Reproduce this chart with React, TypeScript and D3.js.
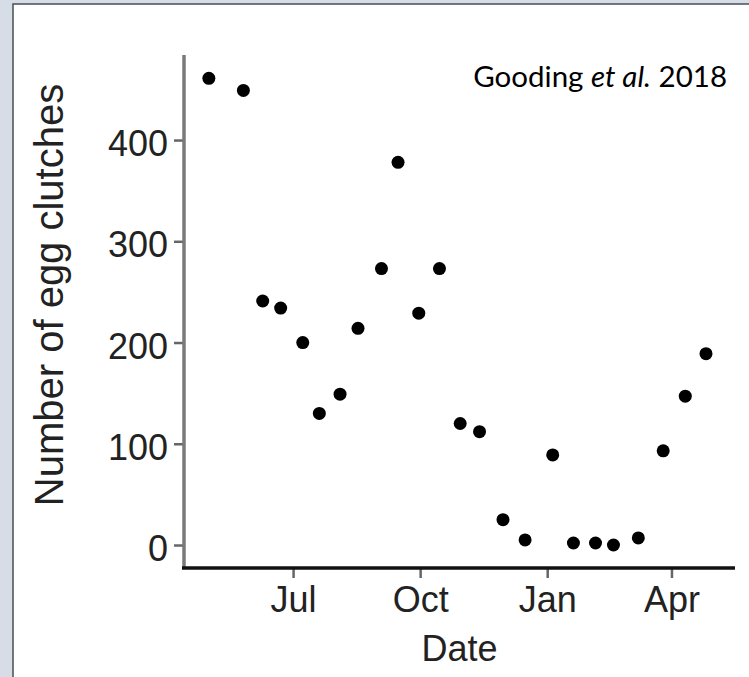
import React, {useEffect, useRef} from "react";
import * as d3 from "d3";

// sampling dates (roughly fortnightly) and egg clutch counts
const dates = [
    "2016-05-01", "2016-05-26", "2016-06-09", "2016-06-22", "2016-07-08", "2016-07-20",
    "2016-08-04", "2016-08-17", "2016-09-03", "2016-09-15", "2016-09-30", "2016-10-15",
    "2016-10-30", "2016-11-13", "2016-11-30", "2016-12-16", "2017-01-05", "2017-01-20",
    "2017-02-05", "2017-02-18", "2017-03-08", "2017-03-26", "2017-04-11", "2017-04-26"
];
const clutches = [
    461, 449, 241, 234, 200, 130, 149, 214, 273, 378, 229, 273,
    120, 112, 25, 5, 89, 2, 2, 0, 7, 93, 147, 189
];
const yTicks = [0, 100, 200, 300, 400];
const xTicks = ["2016-07-01", "2016-10-01", "2017-01-01", "2017-04-01"];
const xTickLabels = ["Jul", "Oct", "Jan", "Apr"];

const W = 749;
const H = 677;

const App = () => {
    const ref = useRef<SVGSVGElement>(null);

    useEffect(() => {
        const svg = d3.select(ref.current);
        svg.selectAll("*").remove();

        const parse = d3.timeParse("%Y-%m-%d");
        const left = 184, right = 735, top = 55, bottom = 568;

        // background + white panel
        svg.append("rect").attr("width", W).attr("height", H).attr("fill", "#d6dde7");
        svg.append("rect").attr("x", 13).attr("y", 4).attr("width", W).attr("height", H)
            .attr("fill", "#fff").attr("stroke", "#4a4f57").attr("stroke-width", 1.5);

        const x = d3.scaleTime()
            .domain([parse("2016-04-13")!, parse("2017-05-17")!])
            .range([left, right]);
        const y = d3.scaleLinear()
            .domain([-22.7, 484])
            .range([bottom, top]);

        const font = "'Liberation Sans', Arial, sans-serif";

        // y axis
        const yAxis = d3.axisLeft(y).tickValues(yTicks).tickSize(10).tickPadding(6);
        const gy = svg.append("g").attr("transform", `translate(${left},0)`).call(yAxis);
        gy.select(".domain").remove();
        gy.selectAll(".tick line").attr("stroke", "#666").attr("stroke-width", 2.5);
        gy.selectAll(".tick text")
            .attr("font-family", font).attr("font-size", 36).attr("fill", "#222")
            .attr("dy", "0.38em")
            .attr("transform", "translate(0,2)");
        svg.append("line").attr("x1", left).attr("x2", left).attr("y1", top).attr("y2", bottom)
            .attr("stroke", "#7a7a7a").attr("stroke-width", 3.5);

        // x axis
        const xAxis = d3.axisBottom(x)
            .tickValues(xTicks.map(d => parse(d)!))
            .tickFormat((d, i) => xTickLabels[i])
            .tickSize(9).tickPadding(8);
        const gx = svg.append("g").attr("transform", `translate(0,${bottom + 1})`).call(xAxis);
        gx.select(".domain").remove();
        gx.selectAll(".tick line").attr("stroke", "#666").attr("stroke-width", 2.5);
        gx.selectAll(".tick text")
            .attr("font-family", font).attr("font-size", 36).attr("fill", "#222");
        svg.append("line").attr("x1", left - 2).attr("x2", right).attr("y1", bottom).attr("y2", bottom)
            .attr("stroke", "#111").attr("stroke-width", 3.5);

        // axis titles
        svg.append("text")
            .attr("transform", `translate(63,295) rotate(-90)`)
            .attr("text-anchor", "middle")
            .attr("font-family", font).attr("font-size", 40).attr("fill", "#222")
            .text("Number of egg clutches");
        svg.append("text")
            .attr("x", (left + right) / 2).attr("y", 661)
            .attr("text-anchor", "middle")
            .attr("font-family", font).attr("font-size", 36).attr("fill", "#222")
            .text("Date");

        // points
        svg.selectAll(".pt")
            .data(clutches)
            .join("circle")
            .attr("class", "pt")
            .attr("cx", (d, i) => x(parse(dates[i])!))
            .attr("cy", d => y(d))
            .attr("r", 6.5)
            .attr("fill", "#000");

        // citation
        const cite = svg.append("text")
            .attr("x", 727).attr("y", 87)
            .attr("text-anchor", "end")
            .attr("font-family", "Lato, 'Open Sans', sans-serif").attr("font-size", 29.5).attr("fill", "#000");
        cite.append("tspan").text("Gooding ");
        cite.append("tspan").attr("font-style", "italic").text("et al.");
        cite.append("tspan").text(" 2018");
    }, []);

    return (
        <svg ref={ref} width={W} height={H}
             style={{position: "absolute", top: 0, left: 0, display: "block"}}/>
    );
};

export default App;
